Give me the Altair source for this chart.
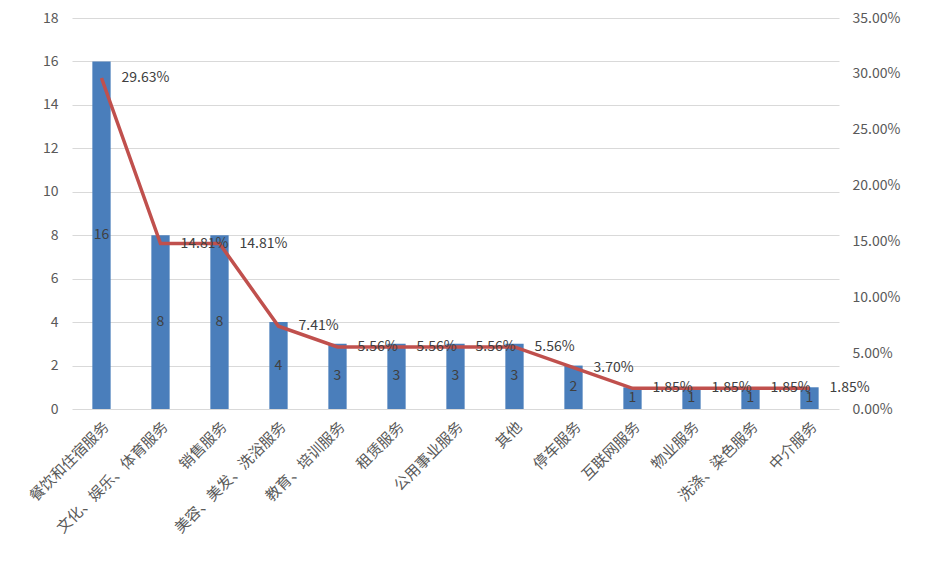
import altair as alt
import pandas as pd

categories = ["餐饮和住宿服务", "文化、娱乐、体育服务", "销售服务", "美容、美发、洗浴服务",
              "教育、培训服务", "租赁服务", "公用事业服务", "其他", "停车服务",
              "互联网服务", "物业服务", "洗涤、染色服务", "中介服务"]
counts = [16, 8, 8, 4, 3, 3, 3, 3, 2, 1, 1, 1, 1]
shares = [0.2963, 0.1481, 0.1481, 0.0741, 0.0556, 0.0556, 0.0556, 0.0556,
          0.0370, 0.0185, 0.0185, 0.0185, 0.0185]
share_labels = ["29.63%", "14.81%", "14.81%", "7.41%", "5.56%", "5.56%", "5.56%",
                "5.56%", "3.70%", "1.85%", "1.85%", "1.85%", "1.85%"]

df = pd.DataFrame({"cat": categories, "count": counts, "share": shares,
                   "share_label": share_labels})
df["half"] = df["count"] / 2

FONT = "Noto Sans CJK SC"
GRAY = "#595959"

x = alt.X("cat:N", sort=categories, title=None,
          scale=alt.Scale(paddingInner=0.69, paddingOuter=0.345),
          axis=alt.Axis(labelAngle=-45, labelFontSize=15, labelColor=GRAY,
                        labelFont=FONT, ticks=False, domain=False, labelPadding=10))

y_left = alt.Y("count:Q", title=None,
               scale=alt.Scale(domain=[0, 18]),
               axis=alt.Axis(values=list(range(0, 19, 2)), labelFontSize=14,
                             labelColor=GRAY, labelFont=FONT, ticks=False,
                             domain=False, gridColor="#d9d9d9", labelPadding=14))

bars = alt.Chart(df).mark_bar(color="#4a7ebb").encode(x=x, y=y_left)

bar_text = alt.Chart(df).mark_text(fontSize=14, color="#404040", font=FONT).encode(
    x=alt.X("cat:N", sort=categories), y=alt.Y("half:Q"), text="count:Q")

left = alt.layer(bars, bar_text)

y_right = alt.Y("share:Q", title=None,
                scale=alt.Scale(domain=[0, 0.35]),
                axis=alt.Axis(orient="right", values=[0, 0.05, 0.1, 0.15, 0.2, 0.25, 0.3, 0.35],
                              format=".2%", labelFontSize=14, labelColor=GRAY,
                              labelFont=FONT, ticks=False, domain=False, grid=False,
                              labelPadding=13))

line = alt.Chart(df).mark_line(color="#c0504d", strokeWidth=3.5).encode(
    x=alt.X("cat:N", sort=categories), y=y_right)

line_text = alt.Chart(df).mark_text(fontSize=14, color="#404040", font=FONT,
                                    align="left", baseline="middle", dx=20).encode(
    x=alt.X("cat:N", sort=categories), y=alt.Y("share:Q"), text="share_label:N")

right = alt.layer(line, line_text)

chart = alt.layer(left, right).resolve_scale(y="independent").properties(
    width=767, height=391,
    padding={"left": 72, "top": 18, "right": 99, "bottom": 155},
    autosize=alt.AutoSizeParams(type="none"),
    background="white"
).configure_view(stroke=None)

chart.save("out.html", embed_options={"renderer": "svg", "actions": False})
